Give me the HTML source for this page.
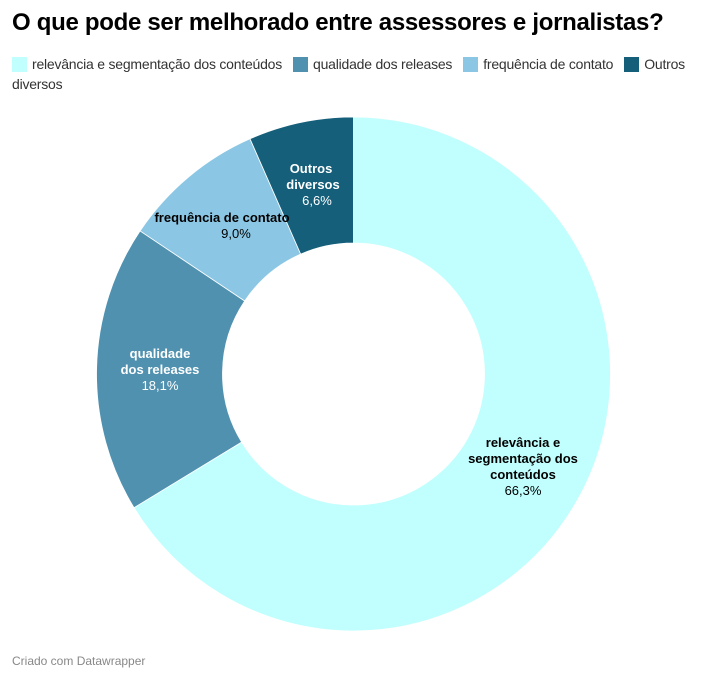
<!DOCTYPE html>
<html><head><meta charset="utf-8"><style>
body{margin:0;width:708px;height:680px;background:#fff;font-family:"Liberation Sans",sans-serif;position:relative;overflow:hidden}
.t{position:absolute;left:12px;top:9px;font-size:24px;font-weight:bold;color:#000;letter-spacing:-0.3px}
.lg{position:absolute;left:12px;top:54px;width:694px;font-size:14px;color:#333;line-height:20px;letter-spacing:-0.22px}
.lg span.s{display:inline-block;width:15px;height:15px;vertical-align:-3px;margin-right:5px}
.lg span.i{margin-right:11px}
.f{position:absolute;left:12px;top:654px;font-size:12px;color:#888}
</style></head><body>
<div class="t">O que pode ser melhorado entre assessores e jornalistas?</div>
<div class="lg"><span class="s" style="background:#c0fffe"></span><span class="i">relevância e segmentação dos conteúdos</span><span class="s" style="background:#5091b0"></span><span class="i">qualidade dos releases</span><span class="s" style="background:#8bc7e4"></span><span class="i">frequência de contato</span><span class="s" style="background:#155f7a"></span>Outros diversos</div>
<svg width="708" height="680" style="position:absolute;left:0;top:0" font-family="Liberation Sans, sans-serif" font-size="13" text-anchor="middle">
<g stroke="#fff" stroke-width="0.8">
<path d="M353.5,117 A257,257 0 1 1 134.0,507.7 L241.6,442.1 A131,131 0 1 0 353.5,243 Z" fill="#c0fffe"/>
<path d="M134.0,507.7 A257,257 0 0 1 140.1,230.9 L244.7,301.0 A131,131 0 0 0 241.6,442.1 Z" fill="#5091b0"/>
<path d="M140.1,230.9 A257,257 0 0 1 250.0,138.8 L300.7,254.1 A131,131 0 0 0 244.7,301.0 Z" fill="#8bc7e4"/>
<path d="M250.0,138.8 A257,257 0 0 1 353.5,117 L353.5,243 A131,131 0 0 0 300.7,254.1 Z" fill="#155f7a"/>
</g>
<g fill="#fff"><text x="311" y="173" font-weight="bold">Outros</text><text x="313" y="189" font-weight="bold">diversos</text><text x="317" y="205">6,6%</text></g>
<g fill="#000"><text x="222" y="222" font-weight="bold">frequência de contato</text><text x="236" y="238">9,0%</text></g>
<g fill="#fff"><text x="160" y="358" font-weight="bold">qualidade</text><text x="160" y="374" font-weight="bold">dos releases</text><text x="160" y="390">18,1%</text></g>
<g fill="#000"><text x="523" y="447" font-weight="bold">relevância e</text><text x="523" y="463" font-weight="bold">segmentação dos</text><text x="523" y="479" font-weight="bold">conteúdos</text><text x="523" y="495">66,3%</text></g>
</svg>
<div class="f">Criado com Datawrapper</div>
</body></html>
